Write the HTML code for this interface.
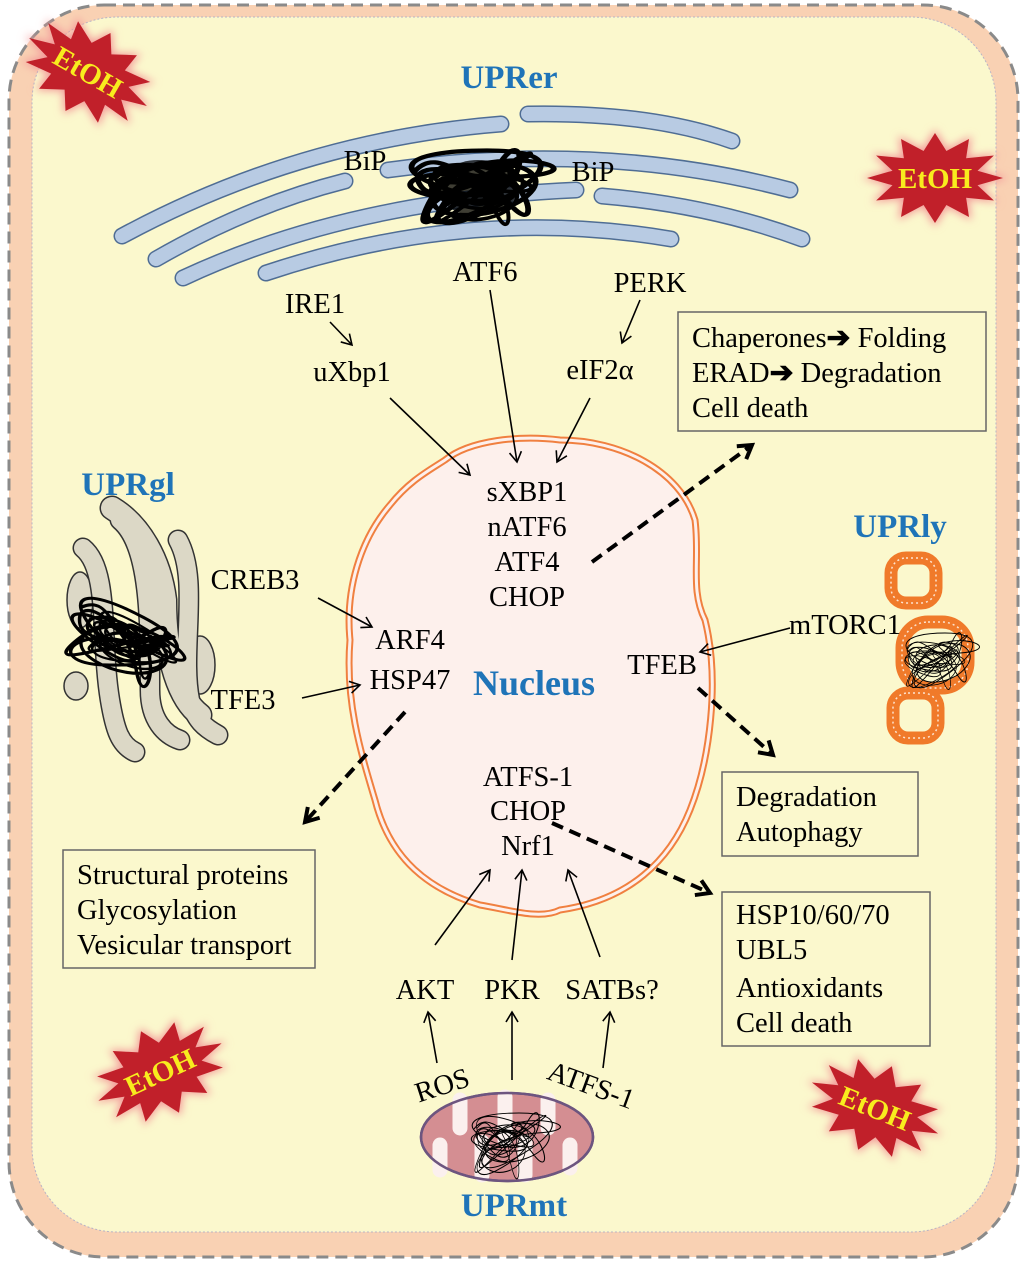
<!DOCTYPE html>
<html><head><meta charset="utf-8"><style>
html,body{margin:0;padding:0;background:#fff}
svg{display:block}
text{font-family:"Liberation Serif",serif}
</style></head><body>
<svg width="1024" height="1263" viewBox="0 0 1024 1263" xmlns="http://www.w3.org/2000/svg">
<defs>
<marker id="ah" markerWidth="14" markerHeight="14" refX="11" refY="7" orient="auto" markerUnits="userSpaceOnUse">
<path d="M1,1 L11,7 L1,13" fill="none" stroke="#000" stroke-width="1.6"/></marker>
<marker id="ahd" markerWidth="20" markerHeight="20" refX="15" refY="10" orient="auto" markerUnits="userSpaceOnUse">
<path d="M2,2 L15,10 L2,18" fill="none" stroke="#000" stroke-width="4"/></marker>
<filter id="glow" x="-30%" y="-30%" width="160%" height="160%"><feGaussianBlur stdDeviation="4"/></filter>
<polygon id="star" points="68,0 42.5,7.3 58.9,22.5 31.1,19.8 34,39 11.4,27 0,45 -11.4,27 -34,39 -31.1,19.8 -58.9,22.5 -42.5,7.3 -68,0 -42.5,-7.3 -58.9,-22.5 -31.1,-19.8 -34,-39 -11.4,-27 0,-45 11.4,-27 34,-39 31.1,-19.8 58.9,-22.5 42.5,-7.3"/>
<path id="scr" d="M10,30 C30,0 50,60 70,20 S90,70 40,50 S0,10 60,10 S100,40 50,70 S10,40 80,35 S60,0 30,40 S70,80 90,50 S40,5 20,60 S60,30 85,15 S30,70 15,45 S50,20 75,60 S90,20 45,25 S25,70 65,45 S35,15 55,30 S80,65 30,55 S20,20 70,40"/>
</defs>
<rect width="1024" height="1263" fill="#fff"/>
<rect x="9" y="5" width="1009" height="1252" rx="95" fill="#f9d1b3" stroke="#8a8a8a" stroke-width="3" stroke-dasharray="12,7"/>
<rect x="32" y="17" width="964" height="1215" rx="85" fill="#fbf8cd" stroke="#b7b3c6" stroke-width="1" stroke-dasharray="2,2"/>

<!-- ER -->
<g fill="none" stroke-linecap="round">
<g stroke="#4f6d94" stroke-width="17">
<path d="M122,236 Q300,140 501,124"/>
<path d="M156,259 Q250,205 345,181"/>
<path d="M183,278 Q350,200 576,190"/>
<path d="M266,273 Q470,205 671,239"/>
<path d="M528,114 Q650,112 732,141"/>
<path d="M388,170 Q600,140 790,190"/>
<path d="M602,196 Q710,205 802,239"/>
</g>
<g stroke="#b8cbe3" stroke-width="14">
<path d="M122,236 Q300,140 501,124"/>
<path d="M156,259 Q250,205 345,181"/>
<path d="M183,278 Q350,200 576,190"/>
<path d="M266,273 Q470,205 671,239"/>
<path d="M528,114 Q650,112 732,141"/>
<path d="M388,170 Q600,140 790,190"/>
<path d="M602,196 Q710,205 802,239"/>
</g>
</g>
<use href="#scr" transform="translate(400,140) scale(1.45,1.05)" fill="none" stroke="#000" stroke-width="4"/>
<use href="#scr" transform="translate(430,150) scale(1.0,0.9) rotate(8)" fill="none" stroke="#000" stroke-width="4"/>
<ellipse cx="478" cy="188" rx="40" ry="28" fill="#000" opacity="0.75"/>

<!-- Golgi -->
<g fill="#dcd8c6" stroke="#333" stroke-width="1.5">
<ellipse cx="76" cy="686" rx="12" ry="14"/>
<ellipse cx="80" cy="600" rx="13" ry="28"/>
<ellipse cx="200" cy="665" rx="15" ry="29"/>
</g>
<g fill="none" stroke-linecap="round">
<g stroke="#333" stroke-width="21">
<path d="M83,548 C110,570 100,640 110,700 C115,730 120,745 135,752"/>
<path d="M120,520 C150,545 150,620 150,690 C150,720 165,735 180,740"/>
<path d="M178,540 C200,580 180,650 190,700 C195,720 205,728 218,735"/>
</g>
<g stroke="#333" stroke-width="25">
<path d="M112,508 C140,525 160,560 165,600 C165,660 180,700 200,715"/>
</g>
<g stroke="#dcd8c6" stroke-width="18">
<path d="M83,548 C110,570 100,640 110,700 C115,730 120,745 135,752"/>
<path d="M120,520 C150,545 150,620 150,690 C150,720 165,735 180,740"/>
<path d="M178,540 C200,580 180,650 190,700 C195,720 205,728 218,735"/>
</g>
<g stroke="#dcd8c6" stroke-width="22">
<path d="M112,508 C140,525 160,560 165,600 C165,660 180,700 200,715"/>
</g>
</g>
<use href="#scr" transform="translate(85,575) rotate(28) scale(1.2,1)" fill="none" stroke="#000" stroke-width="3"/>
<use href="#scr" transform="translate(105,595) rotate(32) scale(0.9,0.7)" fill="none" stroke="#000" stroke-width="3"/>

<!-- Lysosomes -->
<g fill="none" stroke="#f07a2a" stroke-width="13">
<rect x="891" y="558" width="45" height="45" rx="15"/>
<rect x="893" y="693" width="45" height="45" rx="15"/>
<rect x="902" y="622" width="66" height="66" rx="26"/>
</g>
<g fill="none" stroke="#fde3cf" stroke-width="1.5" stroke-dasharray="2,3">
<rect x="891" y="558" width="45" height="45" rx="15"/>
<rect x="893" y="693" width="45" height="45" rx="15"/>
<rect x="902" y="622" width="66" height="66" rx="26"/>
</g>
<use href="#scr" transform="translate(900,625) scale(0.75,0.8)" fill="none" stroke="#000" stroke-width="1.2"/>
<use href="#scr" transform="translate(905,630) scale(0.6,0.7) rotate(10)" fill="none" stroke="#000" stroke-width="1.2"/>

<!-- Nucleus -->
<path d="M445,460 C470,440 520,435 560,440 C620,440 680,470 695,520 C700,560 690,590 705,620 C720,680 710,760 690,810 C670,860 630,900 560,910 C540,920 510,910 480,905 C430,890 390,860 375,800 C360,750 345,700 350,640 C345,590 360,540 390,505 C410,480 430,470 445,460 Z" fill="#fdf0ec" stroke="#f08040" stroke-width="7"/>
<path d="M445,460 C470,440 520,435 560,440 C620,440 680,470 695,520 C700,560 690,590 705,620 C720,680 710,760 690,810 C670,860 630,900 560,910 C540,920 510,910 480,905 C430,890 390,860 375,800 C360,750 345,700 350,640 C345,590 360,540 390,505 C410,480 430,470 445,460 Z" fill="none" stroke="#fdf0ec" stroke-width="3"/>

<!-- Mito -->
<ellipse cx="507" cy="1137" rx="86" ry="44" fill="#d48e92" stroke="#6d557f" stroke-width="2.5"/>
<g stroke="#fbf0ee" stroke-width="15" stroke-linecap="round">
<line x1="460" y1="1100" x2="460" y2="1128"/>
<line x1="505" y1="1097" x2="505" y2="1140"/>
<line x1="548" y1="1100" x2="548" y2="1128"/>
<line x1="440" y1="1170" x2="440" y2="1145"/>
<line x1="482" y1="1175" x2="482" y2="1142"/>
<line x1="525" y1="1175" x2="525" y2="1142"/>
<line x1="570" y1="1168" x2="570" y2="1145"/>
</g>
<ellipse cx="507" cy="1137" rx="86" ry="44" fill="none" stroke="#6d557f" stroke-width="2.5"/>
<use href="#scr" transform="translate(465,1105) scale(0.9,0.8)" fill="none" stroke="#000" stroke-width="1.2"/>
<use href="#scr" transform="translate(475,1100) scale(0.6,0.9) rotate(12)" fill="none" stroke="#000" stroke-width="1.2"/>

<!-- EtOH stars -->
<g transform="translate(88,72) rotate(30)"><use href="#star" fill="#f39a9a" filter="url(#glow)" transform="scale(1.08)"/><use href="#star" fill="#c1202a"/><text x="0" y="10" text-anchor="middle" font-size="29" font-weight="bold" fill="#f8ec1e">EtOH</text></g>
<g transform="translate(935,178)"><use href="#star" fill="#f39a9a" filter="url(#glow)" transform="scale(1.08)"/><use href="#star" fill="#c1202a"/><text x="0" y="10" text-anchor="middle" font-size="29" font-weight="bold" fill="#f8ec1e">EtOH</text></g>
<g transform="translate(160,1072) rotate(-25)"><use href="#star" fill="#f39a9a" filter="url(#glow)" transform="scale(1.08)"/><use href="#star" fill="#c1202a"/><text x="0" y="10" text-anchor="middle" font-size="29" font-weight="bold" fill="#f8ec1e">EtOH</text></g>
<g transform="translate(875,1108) rotate(22)"><use href="#star" fill="#f39a9a" filter="url(#glow)" transform="scale(1.08)"/><use href="#star" fill="#c1202a"/><text x="0" y="10" text-anchor="middle" font-size="29" font-weight="bold" fill="#f8ec1e">EtOH</text></g>

<!-- Boxes -->
<g fill="#fbf8cd" stroke="#666" stroke-width="1.5">
<rect x="678" y="312" width="308" height="119"/>
<rect x="63" y="850" width="252" height="118"/>
<rect x="722" y="772" width="196" height="84"/>
<rect x="722" y="892" width="208" height="154"/>
</g>

<!-- Arrows -->
<g stroke="#000" stroke-width="1.6" fill="none" marker-end="url(#ah)">
<line x1="330" y1="322" x2="352" y2="345"/>
<line x1="390" y1="398" x2="470" y2="475"/>
<line x1="490" y1="290" x2="517" y2="462"/>
<line x1="640" y1="300" x2="622" y2="343"/>
<line x1="590" y1="398" x2="557" y2="462"/>
<line x1="318" y1="598" x2="372" y2="627"/>
<line x1="302" y1="698" x2="360" y2="685"/>
<line x1="790" y1="628" x2="700" y2="652"/>
<line x1="435" y1="945" x2="490" y2="870"/>
<line x1="512" y1="960" x2="522" y2="870"/>
<line x1="600" y1="957" x2="568" y2="870"/>
<line x1="437" y1="1063" x2="428" y2="1012"/>
<line x1="512" y1="1080" x2="512" y2="1012"/>
<line x1="603" y1="1068" x2="610" y2="1012"/>
</g>
<g stroke="#000" stroke-width="4" fill="none" stroke-dasharray="12,7" marker-end="url(#ahd)">
<line x1="592" y1="562" x2="752" y2="445"/>
<line x1="405" y1="712" x2="305" y2="822"/>
<line x1="698" y1="688" x2="773" y2="755"/>
<line x1="552" y1="823" x2="710" y2="893"/>
</g>

<!-- Text -->
<g font-size="28.5" fill="#000">
<text x="365" y="170" text-anchor="middle">BiP</text>
<text x="593" y="181" text-anchor="middle">BiP</text>
<text x="315" y="313" text-anchor="middle">IRE1</text>
<text x="352" y="381" text-anchor="middle">uXbp1</text>
<text x="485" y="281" text-anchor="middle">ATF6</text>
<text x="650" y="292" text-anchor="middle">PERK</text>
<text x="600" y="379" text-anchor="middle">eIF2α</text>
<g text-anchor="middle">
<text x="527" y="501">sXBP1</text>
<text x="527" y="536">nATF6</text>
<text x="527" y="571">ATF4</text>
<text x="527" y="606">CHOP</text>
<text x="410" y="649">ARF4</text>
<text x="410" y="689">HSP47</text>
<text x="255" y="589">CREB3</text>
<text x="243" y="709">TFE3</text>
<text x="845" y="634">mTORC1</text>
<text x="662" y="674">TFEB</text>
<text x="528" y="786">ATFS-1</text>
<text x="528" y="820">CHOP</text>
<text x="528" y="855">Nrf1</text>
<text x="425" y="999">AKT</text>
<text x="512" y="999">PKR</text>
<text x="612" y="999">SATBs?</text>
<text transform="translate(445,1094) rotate(-18)">ROS</text>
<text transform="translate(588,1094) rotate(20)">ATFS-1</text>
</g>
<text x="692" y="347">Chaperones<tspan font-weight="bold">➔</tspan> Folding</text>
<text x="692" y="382">ERAD<tspan font-weight="bold">➔</tspan> Degradation</text>
<text x="692" y="417">Cell death</text>
<text x="77" y="884">Structural proteins</text>
<text x="77" y="919">Glycosylation</text>
<text x="77" y="954">Vesicular transport</text>
<text x="736" y="806">Degradation</text>
<text x="736" y="841">Autophagy</text>
<text x="736" y="924">HSP10/60/70</text>
<text x="736" y="959">UBL5</text>
<text x="736" y="997">Antioxidants</text>
<text x="736" y="1032">Cell death</text>
</g>
<g font-size="33" font-weight="bold" fill="#1f74b8" text-anchor="middle">
<text x="509" y="88">UPRer</text>
<text x="128" y="495">UPRgl</text>
<text x="900" y="537">UPRly</text>
<text x="514" y="1216">UPRmt</text>
<text x="534" y="695" font-size="36">Nucleus</text>
</g>
</svg>
</body></html>
